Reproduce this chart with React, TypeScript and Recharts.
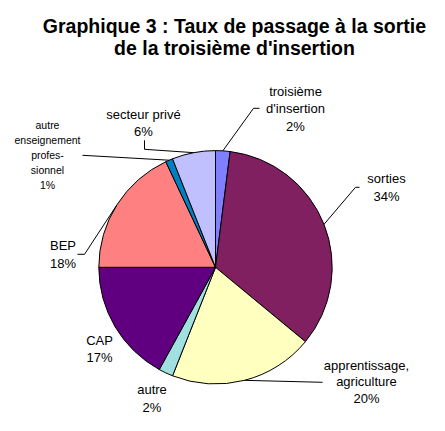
import React from "react";
import { PieChart, Pie, Cell } from "recharts";

const CATEGORIES = [
  "troisième d'insertion",
  "sorties",
  "apprentissage, agriculture",
  "autre",
  "CAP",
  "BEP",
  "autre enseignement professionnel",
  "secteur privé",
];
const VALUES = [2, 34, 20, 2, 17, 18, 1, 6];
const LABEL_LINES = [
  ["troisième", "d'insertion", "2%"],
  ["sorties", "34%"],
  ["apprentissage,", "agriculture", "20%"],
  ["autre", "2%"],
  ["CAP", "17%"],
  ["BEP", "18%"],
  ["autre", "enseignement", "profes-", "sionnel", "1%"],
  ["secteur privé", "6%"],
];
const COLORS = ["#8080ff", "#802060", "#ffffc0", "#a0e0e0", "#600080", "#ff8080", "#0080c0", "#c0c0ff"];

// label layout relative to pie centre: text centre x, first baseline, line step, font size, leader line points
const LABEL_LAYOUT = [
  { dx: 80, dy: -171.5, step: 17.5, size: 13, line: [[38, -159], [44, -159]] },
  { dx: 171, dy: -84, step: 17.5, size: 13, line: [[140, -80], [144, -80]] },
  { dx: 151, dy: 102.5, step: 16.5, size: 13, line: [[107, 115]] },
  { dx: -63.5, dy: 126.5, step: 18, size: 13, line: [] },
  { dx: -116, dy: 77.5, step: 17.5, size: 13, line: [] },
  { dx: -152.5, dy: -17, step: 18, size: 13, line: [[-131, -13], [-138, -13]] },
  { dx: -168, dy: -138, step: 15, size: 10.5, line: [[-133, -112]] },
  { dx: -72, dy: -148.5, step: 17.5, size: 13, line: [[-71, -118], [-71, -127]] },
];

const data = CATEGORIES.map((name, i) => ({ name, value: VALUES[i] }));
const RAD = Math.PI / 180;
const FONT = "'Liberation Sans', Arial, sans-serif";

const renderLabel = (props: any) => {
  const { cx, cy, midAngle, outerRadius, index } = props;
  const lay = LABEL_LAYOUT[index];
  const ex = cx + outerRadius * Math.cos(-midAngle * RAD);
  const ey = cy + outerRadius * Math.sin(-midAngle * RAD);
  const pts = [[ex, ey], ...lay.line.map(([x, y]) => [cx + x, cy + y])];
  return (
    <g key={`lbl-${index}`}>
      {lay.line.length > 0 && (
        <polyline
          points={pts.map((p) => p.join(",")).join(" ")}
          fill="none"
          stroke="#000"
          strokeWidth={1}
        />
      )}
      <text
        x={cx + lay.dx}
        y={cy + lay.dy}
        textAnchor="middle"
        fontFamily={FONT}
        fontSize={lay.size}
        fill="#000"
      >
        {LABEL_LINES[index].map((t, j) => (
          <tspan key={j} x={cx + lay.dx} y={cy + lay.dy + j * lay.step}>
            {t}
          </tspan>
        ))}
      </text>
    </g>
  );
};

export default function App() {
  return (
    <div style={{ position: "absolute", left: 0, top: 0, width: 445, height: 431, background: "#fff" }}>
      <div
        style={{
          position: "absolute",
          left: 0,
          top: 15,
          width: 469,
          textAlign: "center",
          fontFamily: FONT,
          fontWeight: "bold",
          fontSize: 19.5,
          lineHeight: "22px",
          color: "#000",
        }}
      >
        Graphique 3 : Taux de passage à la sortie
        <br />
        de la troisième d'insertion
      </div>
      <PieChart width={445} height={431} style={{ position: "absolute", left: 0, top: 0 }}>
        <Pie
          data={data}
          dataKey="value"
          nameKey="name"
          cx={210.5}
          cy={262.3}
          outerRadius={116.7}
          startAngle={90}
          endAngle={-270}
          stroke="#000"
          strokeWidth={1}
          label={renderLabel}
          labelLine={false}
          isAnimationActive={false}
        >
          {data.map((d, i) => (
            <Cell key={d.name} fill={COLORS[i]} />
          ))}
        </Pie>
      </PieChart>
    </div>
  );
}
